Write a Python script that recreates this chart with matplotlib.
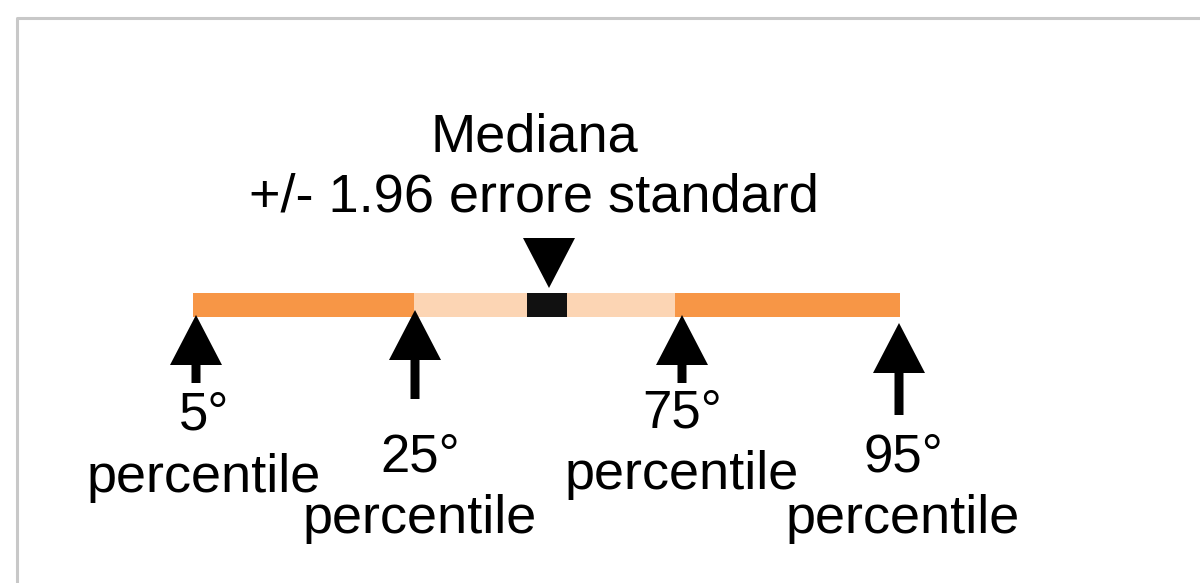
import matplotlib.pyplot as plt
from matplotlib.patches import Rectangle

plt.rcParams['font.family'] = ['Liberation Sans', 'DejaVu Sans']

# bar pieces along the scale (left edge, right edge) and their colours
band_edges = [193, 414, 527, 567, 675, 900]
band_colors = ['#f79646', '#fcd5b4', '#111111', '#fcd5b4', '#f79646']
bar_top, bar_bottom = 293, 317

# percentile arrows and their labels
pct_names = ['5°', '25°', '75°', '95°']
pct_x = [196, 415, 682, 899]
pct_tip = [315, 310, 315, 323]
pct_tail = [383, 399, 383, 415]
pct_label_base = [430, 471, 427, 471]
pct_label_dx = [8, 5, 0, 4]

# median marker and title text
median_x = 549
median_top, median_tip = 238, 288
title_lines = ['Mediana', '+/- 1.96 errore standard']
title_base = [152, 212]
title_x = 534

fig = plt.figure(figsize=(12, 5.83), dpi=100)
ax = fig.add_axes([0, 0, 1, 1])
ax.set_xlim(0, 1200)
ax.set_ylim(583, 0)
ax.axis('off')

# light grey frame, only top and left edges are visible
ax.plot([17, 17, 1200], [583, 18, 18], color='#c8c8c8', lw=2.2)

for i in range(len(band_colors)):
    ax.add_patch(Rectangle((band_edges[i], bar_top), band_edges[i + 1] - band_edges[i],
                           bar_bottom - bar_top, color=band_colors[i], lw=0))

for i in range(len(pct_names)):
    ax.arrow(pct_x[i], pct_tail[i], 0, pct_tip[i] - pct_tail[i], width=9,
             head_width=52, head_length=50, length_includes_head=True,
             color='black', lw=0)
    ax.text(pct_x[i] + pct_label_dx[i], pct_label_base[i], pct_names[i],
            ha='center', va='baseline', fontsize=38)
    ax.text(pct_x[i] + pct_label_dx[i], pct_label_base[i] + 62, 'percentile',
            ha='center', va='baseline', fontsize=39)

ax.arrow(median_x, median_top, 0, median_tip - median_top, width=0.5,
         head_width=52, head_length=50, length_includes_head=True,
         color='black', lw=0)

for line, yb in zip(title_lines, title_base):
    ax.text(title_x, yb, line, ha='center', va='baseline', fontsize=39)

plt.savefig('out.png', dpi=100)
